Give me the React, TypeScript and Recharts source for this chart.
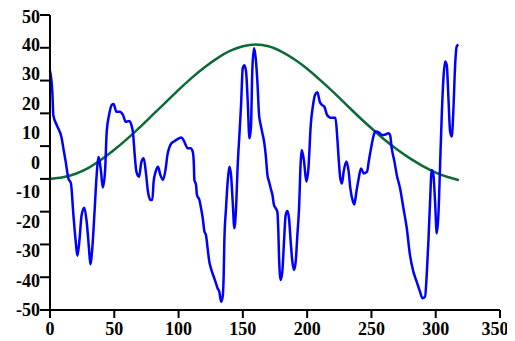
import { LineChart, Line, XAxis, YAxis } from 'recharts';

// noisy signal (blue)
const blueX = [
  0, 1.8, 2.6, 5.2, 9.1, 10.4, 12.2, 14.3, 16.3, 18.2, 20, 21.3, 22.8, 24.6, 26.7, 28.5, 30.3, 31.4, 32.9, 34.5,
  36.3, 37.6, 39.7, 41, 42.8, 44.1, 45.9, 48, 49.5, 51.6, 54.2, 56.8, 58.9, 61.5, 63.3, 64.6, 65.9, 67.2, 69.3, 71.1,
  72.9, 74.5, 76.2, 78.2, 79.6, 80.6, 82.2, 84, 85.8, 87.9, 90, 91.3, 92.6, 94.4, 97, 99.6, 102.2, 104, 105.5, 107.1,
  109.2, 111, 111.8, 112.3, 113.6, 114.3, 116.2, 117.5, 118.8, 120.1, 121.3, 122.6, 123.9, 125.2, 127.8, 129.1, 130.4, 131.7, 133, 134.3,
  135.1, 135.6, 136.9, 138.2, 139.5, 140.8, 142.1, 143.4, 144.7, 146, 147.3, 148.6, 149.9, 151.2, 152.5, 153.8, 155.1, 156.3, 157.4, 158.7,
  160, 161.3, 162.6, 163.9, 165.2, 166.5, 167.8, 169.1, 170.4, 171.7, 173, 174.2, 175.5, 176.8, 177.6, 178.1, 179.4, 180.7, 182, 183.3,
  184.6, 185.9, 187.2, 188.5, 189.8, 191.1, 192.4, 193.7, 195, 195.8, 197.6, 199.4, 201, 202.8, 204.6, 206.1, 208, 209.8, 211.6, 213.4,
  215.5, 218.1, 222, 223.3, 224.5, 225.8, 227.1, 228.4, 230.5, 232.3, 233.6, 235.7, 236.7, 238.3, 240.1, 241.9, 244, 246.6, 247.9, 249.7,
  251.8, 253.1, 255.7, 258.3, 260.9, 263.2, 264.5, 265.8, 267.9, 269.7, 272.3, 274.9, 277.5, 280, 282.6, 285.2, 287.8, 289.6, 291.7, 293,
  294.3, 295.6, 296.9, 298.2, 299.5, 300.8, 302.1, 303.4, 304.7, 306, 307.3, 308.6, 309.9, 311.2, 312.5, 313.8, 315.1, 316.3, 317.6,
];
const blueY = [
  31, 24, 16, 12.7, 8.2, 4.8, 0.3, -5.4, -7.1, -17.8, -26.8, -31.6, -26.8, -17.8, -15.3, -20, -29, -34.5, -29, -17.8,
  -4.2, 1.9, -3.1, -8.5, -3.1, 10.4, 16, 19.5, 19.8, 17.2, 17.2, 16.1, 13.8, 14.1, 12.7, 9.9, 2.5, -3.1, -4.8, 0.2,
  1.4, -3.1, -9.9, -12.7, -12.7, -6.5, -3.1, -1.4, -4.2, -5.9, -2, 2.5, 4.8, 6.5, 7.3, 8, 8.5, 7.5, 6, 4.8,
  4.8, 3.7, 0.3, -5.9, -7.6, -11, -12.7, -15.5, -18.9, -23.4, -24.6, -29.1, -33.6, -35.9, -39.3, -41, -42.7, -43.8, -47.2, -45.5,
  -38.1, -26.8, -15.5, -6.5, -1.4, -4.2, -13.3, -22.3, -15.5, -0.8, 9.3, 19.5, 31.9, 33, 30.8, 20.6, 8.2, 12, 31.9, 38.7,
  35.3, 27.4, 16.1, 12.7, 9.9, 7.1, 2.5, -4.2, -6.5, -8.8, -11, -14.4, -15.5, -16.7, -23.4, -31.4, -39.8, -37, -26.8, -17.8,
  -16.4, -18.9, -26.8, -33.6, -36.4, -33.6, -24.6, -15.5, 0.3, 4.2, 0.3, -6.5, -2, 12.7, 19.5, 22.9, 23.8, 20.6, 19.5, 18.9,
  16.1, 15.2, 15.2, 9.3, 1.4, -5.4, -7.1, -3.1, 0.3, -3.1, -8.8, -13.3, -14.2, -9.9, -5.4, -2, -3.7, -3.1, 0.3, 4.8,
  9.3, 10.5, 10.2, 9.3, 9.5, 9.9, 9.3, 4.8, 0.3, -4.2, -8.8, -15.5, -22.3, -31.4, -37, -40.4, -43.8, -46, -45.5, -38.1,
  -26.8, -13.3, -2.5, -4.2, -13.3, -24, -17.8, -0.8, 16.1, 28.5, 34.2, 33, 21.8, 10.5, 8.8, 18.4, 33, 39.3, 40,
];

// smooth envelope (green)
const greenX = [0, 10, 20, 30, 40, 50, 60, 70, 80, 90, 100, 110, 120, 130, 140, 150, 160, 170, 180, 190, 200, 210, 220, 230, 240, 250, 260, 270, 280, 290, 300, 310, 318];
const greenY = [-5.5, -5, -3.8, -1.8, 1, 4.3, 8, 12, 16.2, 20.4, 24.6, 28.6, 32.2, 35.3, 37.8, 39.4, 40, 39.4, 37.6, 35, 31.8, 28, 24, 19.8, 15.6, 11.6, 7.8, 4.4, 1.4, -1.2, -3.4, -5, -6];

const xTicks = [0, 50, 100, 150, 200, 250, 300, 350];
const yTicks = [-50, -40, -30, -20, -10, 0, 10, 20, 30, 40, 50];

const blueData = blueX.map((x, i) => ({ x, y: blueY[i] }));
const greenData = greenX.map((x, i) => ({ x, y: greenY[i] }));

const PLOT_LEFT = 42;
const PLOT_TOP = 7;
const PLOT_H = 295;
const FONT = '"Liberation Serif", "Times New Roman", serif';

// the original draws 10 tick marks evenly over the axis, not one per label
function YTick(props: any) {
  const { y, payload, index } = props;
  const markY = index < 10 ? PLOT_TOP + PLOT_H - (index * PLOT_H) / 9 : null;
  return (
    <g>
      {markY !== null && (
        <line x1={PLOT_LEFT - 10} x2={PLOT_LEFT} y1={markY} y2={markY} stroke="#000" strokeWidth={2} />
      )}
      <text
        x={PLOT_LEFT - 10}
        y={y}
        dy="0.35em"
        textAnchor="end"
        fontFamily={FONT}
        fontWeight="bold"
        fontSize={18}
        fill="#000"
      >
        {payload.value}
      </text>
    </g>
  );
}

// last label is pulled in a bit so it stays on the canvas
function XTick(props: any) {
  const { x, y, payload, index } = props;
  const shift = index === xTicks.length - 1 ? -5 : 0;
  return (
    <text
      x={x + shift}
      y={y}
      dy="0.71em"
      textAnchor="middle"
      fontFamily={FONT}
      fontWeight="bold"
      fontSize={18}
      fill="#000"
    >
      {payload.value}
    </text>
  );
}

export default function App() {
  return (
    <LineChart width={507} height={333} margin={{ top: 7, right: 15, bottom: 0, left: 0 }}>
      <XAxis
        type="number"
        dataKey="x"
        domain={[0, 350]}
        ticks={xTicks}
        height={31}
        tickSize={8}
        tickMargin={4}
        axisLine={{ stroke: '#000', strokeWidth: 2 }}
        tickLine={{ stroke: '#000', strokeWidth: 2 }}
        tick={(p: any) => <XTick {...p} />}
        allowDuplicatedCategory={false}
      />
      <YAxis
        type="number"
        domain={[-50, 50]}
        ticks={yTicks}
        width={42}
        tickLine={false}
        axisLine={{ stroke: '#000', strokeWidth: 2 }}
        tick={(p: any) => <YTick {...p} />}
      />
      <Line
        data={greenData}
        dataKey="y"
        type="monotone"
        stroke="#0b6b34"
        strokeWidth={2.5}
        dot={false}
        isAnimationActive={false}
      />
      <Line
        data={blueData}
        dataKey="y"
        type="monotone"
        stroke="#0000ff"
        strokeWidth={2.5}
        dot={false}
        isAnimationActive={false}
      />
    </LineChart>
  );
}
